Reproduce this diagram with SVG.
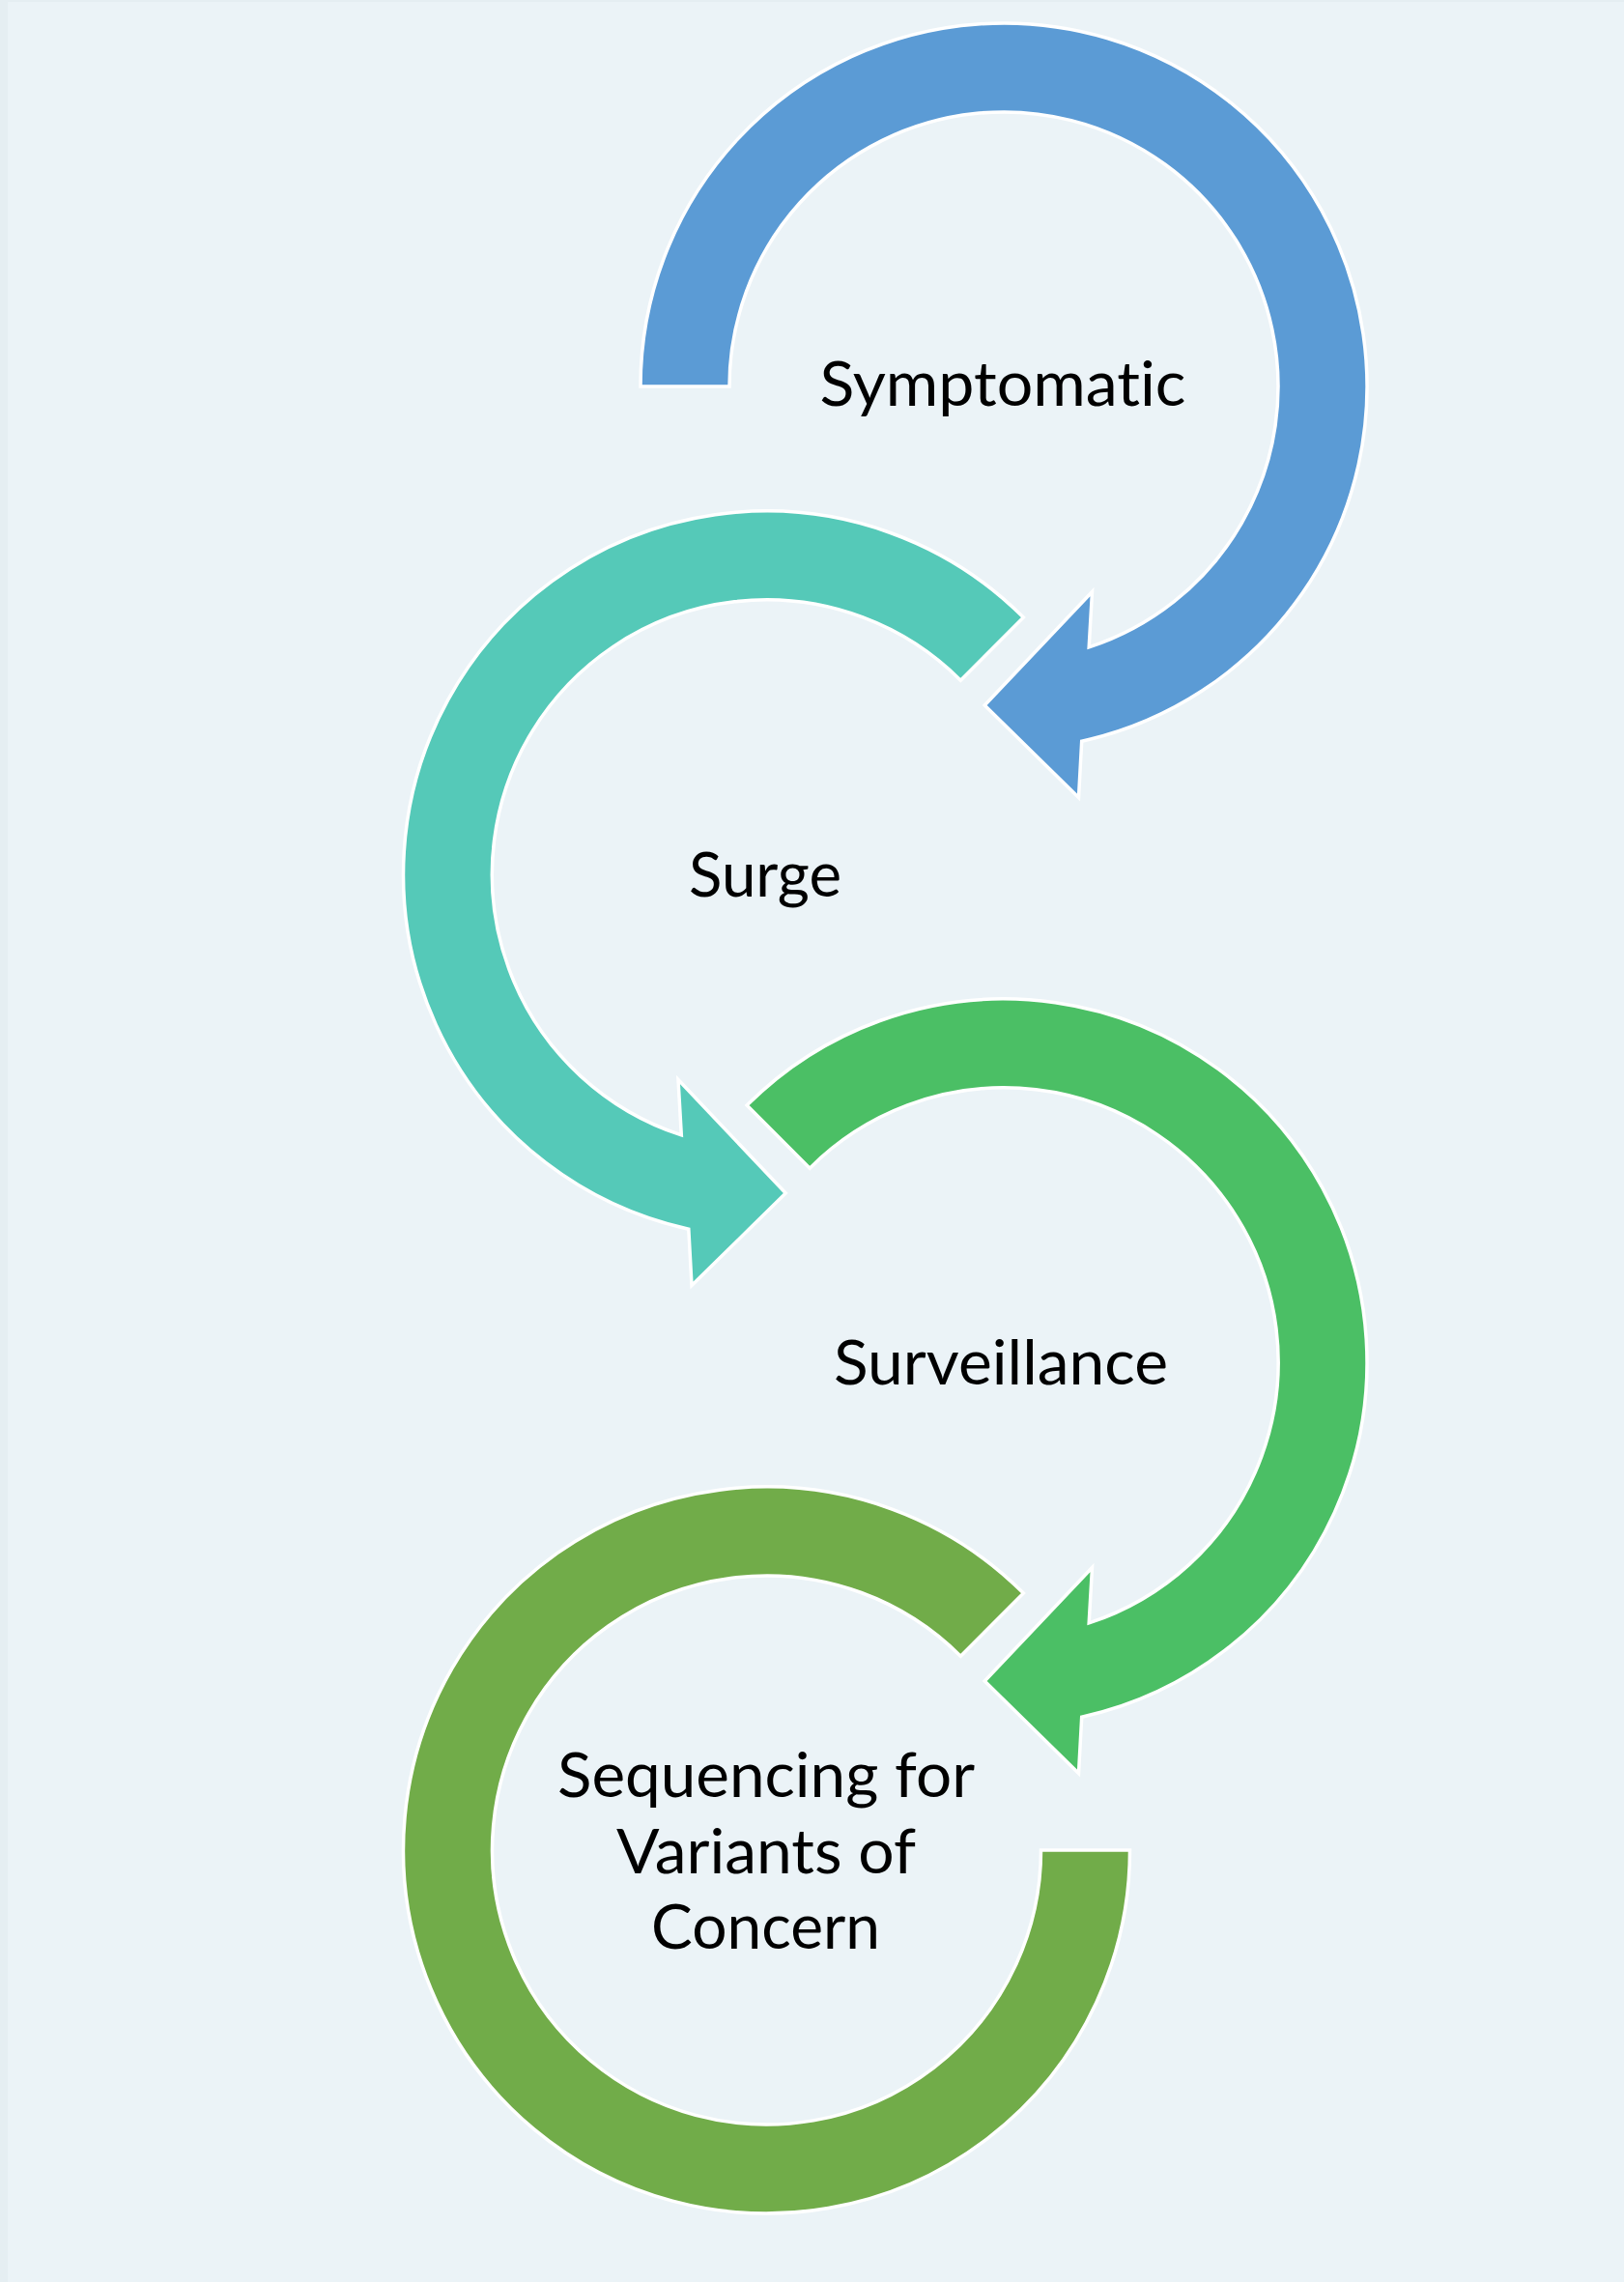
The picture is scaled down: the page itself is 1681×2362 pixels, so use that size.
<svg xmlns="http://www.w3.org/2000/svg" width="1681" height="2362" viewBox="0 0 1681 2362">
  <style>
    .arc { stroke: #ffffff; stroke-width: 3.5; stroke-linejoin: miter; }
    .lbl { font-family: Lato, "Noto Sans", "Liberation Sans", sans-serif; font-size: 63px; fill: #000000; text-anchor: middle; font-variant-ligatures: none; font-feature-settings: "liga" 0, "dlig" 0; }
  </style>
  <rect x="0" y="0" width="1681" height="2362" fill="#EBF3F7"/>
  <rect x="0" y="0" width="8" height="2362" fill="#E5EEF2"/>
  <rect x="0" y="0" width="1681" height="2" fill="#E5EEF2"/>

  <g id="node-symptomatic">
    <path class="arc" fill="#5B9BD5" d="M 663 400 A 376 376 0 1 1 1119.7 767.2 L 1116.5 825.5 L 1019.2 730 L 1130.5 612.5 L 1127.2 669.9 A 284 284 0 1 0 755 400 Z"/>
    <text class="lbl" x="1038" y="420" textLength="379" lengthAdjust="spacingAndGlyphs">Symptomatic</text>
  </g>

  <g id="node-surge">
    <path class="arc" fill="#55C9B8" d="M 1059.4 639.1 A 376 376 0 1 0 712.8 1272.2 L 716 1330.5 L 813.3 1235 L 702 1117.5 L 705.3 1174.9 A 284 284 0 1 1 994.3 704.2 Z"/>
    <text class="lbl" x="792" y="928" textLength="158" lengthAdjust="spacingAndGlyphs">Surge</text>
  </g>

  <g id="node-surveillance">
    <path class="arc" fill="#4BBF65" d="M 773.1 1144.1 A 376 376 0 1 1 1119.7 1777.2 L 1116.5 1835.5 L 1019.2 1740 L 1130.5 1622.5 L 1127.2 1679.9 A 284 284 0 1 0 838.2 1209.2 Z"/>
    <text class="lbl" x="1036" y="1433" textLength="346" lengthAdjust="spacingAndGlyphs">Surveillance</text>
  </g>

  <g id="node-sequencing">
    <path class="arc" fill="#71AC49" d="M 1169.5 1915 A 376 376 0 1 1 1059.4 1649.1 L 994.3 1714.2 A 284 284 0 1 0 1077.5 1915 Z"/>
    <text class="lbl" x="793" y="1860" textLength="432" lengthAdjust="spacingAndGlyphs">Sequencing for</text>
    <text class="lbl" x="793" y="1939" textLength="310" lengthAdjust="spacingAndGlyphs">Variants of</text>
    <text class="lbl" x="792.5" y="2017" textLength="237" lengthAdjust="spacingAndGlyphs">Concern</text>
  </g>

  <g id="connectors"></g>
</svg>
